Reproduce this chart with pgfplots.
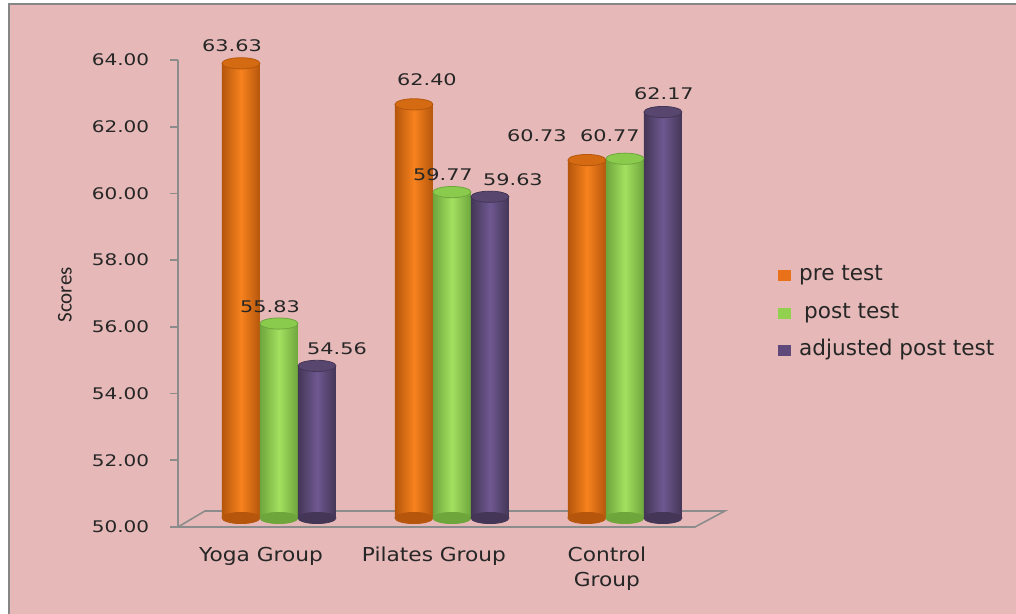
\documentclass[border=0pt]{standalone}
\usepackage{pgfplots}
\pgfplotsset{compat=1.18}
\usepackage{fontspec}
\setmainfont{DejaVu Sans}
\newfontfamily\carlito{Carlito}
\definecolor{bg}{HTML}{E6B9B8}
\definecolor{framegray}{HTML}{868686}
\definecolor{axisgray}{HTML}{8C8C8C}
\definecolor{txt}{HTML}{262626}
\definecolor{oL}{HTML}{F7821E}
\definecolor{oD}{HTML}{B5560C}
\definecolor{oC}{HTML}{D46A12}
\definecolor{gL}{HTML}{A3E060}
\definecolor{gD}{HTML}{6EA63C}
\definecolor{gC}{HTML}{8ACB4E}
\definecolor{pL}{HTML}{6E5890}
\definecolor{pD}{HTML}{443656}
\definecolor{pC}{HTML}{58466F}
\definecolor{legO}{HTML}{E8711A}
\definecolor{legG}{HTML}{92D050}
\definecolor{legP}{HTML}{5F497A}
\pgfdeclareplotmark{cap}{%
  \pgfpathellipse{\pgfpointorigin}{\pgfqpoint{9.5pt}{0pt}}{\pgfqpoint{0pt}{2.8pt}}%
  \pgfusepathqfillstroke}
\pgfplotsset{
  cyl/.style n args={3}{ybar, bar width=19pt, bar shift=#1, draw=none,
     left color=#2, right color=#2, middle color=#3, yshift=4.5pt, forget plot},
  bot/.style n args={2}{only marks, mark=cap, forget plot,
     mark options={xshift=#1, yshift=4.5pt, fill=#2, draw=#2}},
  top/.style n args={3}{only marks, mark=cap, forget plot,
     mark options={xshift=#1, yshift=4.5pt, fill=#2, draw=#3}},
  lab/.style 2 args={draw=none, mark=none, forget plot, point meta=rawy,
     nodes near coords={\pgfmathprintnumber[fixed,fixed zerofill,precision=2,assume math mode=true]{\pgfplotspointmeta}},
     every node near coord/.append style={xshift=#1, yshift=#2, xscale=1.3}},
}
\begin{document}
\begin{tikzpicture}
\useasboundingbox (0,0) rectangle (508pt,307pt);
\fill[white] (0,0) rectangle (508pt,307pt);
\fill[bg] (4.5pt,0) rectangle (508pt,305pt);
\draw[framegray, line width=1pt] (4.5pt,0) -- (4.5pt,305pt) -- (508pt,305pt);
\begin{axis}[
  at={(89pt,43.5pt)}, anchor=south west,
  scale only axis, width=258.5pt, height=233.5pt,
  xmin=-0.5838, xmax=2.405, ymin=50, ymax=64,
  y coord trafo/.code={\pgfmathparse{#1-50}},
  y coord inv trafo/.code={\pgfmathparse{#1+50}},
  clip=false,
  axis lines*=left,
  x axis line style={draw=none},
  y axis line style={axisgray, line width=0.9pt},
  ytick={50,52,...,64},
  tick align=outside,
  major tick length=4pt,
  ytick style={axisgray, line width=0.9pt},
  xtick={0,1,2},
  xtick style={draw=none},
  xticklabels={Yoga Group, Pilates Group, {Control\\Group}},
  xticklabel style={align=center, font=\fontsize{9.6}{12.5}\selectfont, text=txt, xshift=-9pt, yshift=-2.5pt, xscale=1.13},
  yticklabel style={/pgf/number format/.cd, fixed, fixed zerofill, precision=2, assume math mode=true, /tikz/.cd,
     font=\fontsize{8}{9.6}\selectfont, text=txt, xshift=-6pt, xscale=1.25},
  every node near coord/.append style={font=\fontsize{8}{9.6}\selectfont, text=txt, anchor=center, inner sep=0pt},
  ylabel={Scores},
  every axis y label/.style={at={(axis description cs:-0.2186,0.497)}, rotate=90, anchor=center, font=\carlito\fontsize{10.5}{12}\selectfont, text=txt},
  legend image code/.code={\fill[#1, draw=none] (0pt,-2.75pt) rectangle (6.5pt,2.75pt); \path[draw=none, fill=none] (0pt,0pt) -- (9pt,0pt);},
  legend style={at={(axis description cs:1.16,0.458)}, anchor=west, draw=none, fill=none,
     font=\fontsize{10.8}{13}\selectfont, text=txt, row sep=5.8pt, inner sep=0pt,
     nodes={inner sep=1.5pt, text height=7.5pt, text depth=2.5pt}},
  legend cell align=left,
]
\draw[axisgray, line width=0.8pt] (axis cs:-0.5838,50) -- (axis cs:2.405,50) -- (axis cs:2.578,50.48) -- (axis cs:-0.428,50.48) -- cycle;

% bottoms
\addplot[bot={-19pt}{oD}] coordinates {(0,50) (1,50) (2,50)};
\addplot[bot={0pt}{gD}] coordinates {(0,50) (1,50) (2,50)};
\addplot[bot={19pt}{pD}] coordinates {(0,50) (1,50) (2,50)};

% bars
\addplot[cyl={-19pt}{oD}{oL}] coordinates {(0,63.63)};
\addplot[cyl={0pt}{gD}{gL}] coordinates {(0,55.83)};
\addplot[cyl={19pt}{pD}{pL}] coordinates {(0,54.56)};
\addplot[cyl={-19pt}{oD}{oL}] coordinates {(1,62.40)};
\addplot[cyl={0pt}{gD}{gL}] coordinates {(1,59.77)};
\addplot[cyl={19pt}{pD}{pL}] coordinates {(1,59.63)};
\addplot[cyl={-19pt}{oD}{oL}] coordinates {(2,60.73)};
\addplot[cyl={0pt}{gD}{gL}] coordinates {(2,60.77)};
\addplot[cyl={19pt}{pD}{pL}] coordinates {(2,62.17)};

% caps
\addplot[top={-19pt}{oC}{oD}] coordinates {(0,63.63) (1,62.40) (2,60.73)};
\addplot[top={0pt}{gC}{gD}] coordinates {(0,55.83) (1,59.77) (2,60.77)};
\addplot[top={19pt}{pC}{pD}] coordinates {(0,54.56) (1,59.63) (2,62.17)};

% data labels
\addplot[lab={-23.5pt}{13.2pt}] coordinates {(0,63.63)};
\addplot[lab={-4.5pt}{12.8pt}] coordinates {(0,55.83)};
\addplot[lab={29pt}{13pt}] coordinates {(0,54.56)};
\addplot[lab={-12.5pt}{17pt}] coordinates {(1,62.40)};
\addplot[lab={-4.5pt}{13pt}] coordinates {(1,59.77)};
\addplot[lab={30.5pt}{12.9pt}] coordinates {(1,59.63)};
\addplot[lab={-44pt}{16.5pt}] coordinates {(2,60.73)};
\addplot[lab={-7.5pt}{15.9pt}] coordinates {(2,60.77)};
\addplot[lab={19.5pt}{13.5pt}] coordinates {(2,62.17)};

\addlegendimage{fill=legO}
\addlegendentry{pre test}
\addlegendimage{fill=legG}
\addlegendentry{\hspace{2.5pt}post test}
\addlegendimage{fill=legP}
\addlegendentry{adjusted post test}
\end{axis}
\end{tikzpicture}
\end{document}
